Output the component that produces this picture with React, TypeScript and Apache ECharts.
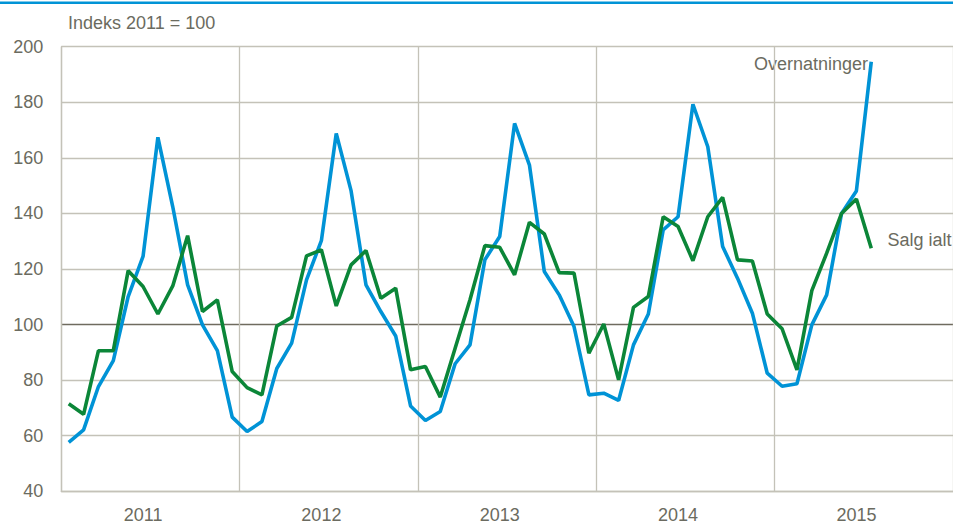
import React, { useEffect, useRef } from "react";
import * as echarts from "echarts";

const years = ["2011", "2012", "2013", "2014", "2015"];
const monthNums = ["01", "02", "03", "04", "05", "06", "07", "08", "09", "10", "11", "12"];

const overnatninger = [
  57.6, 62.1, 77.7, 87.0, 110.1, 124.5, 167.4, 142.4, 114.3, 99.9, 90.6, 66.7,
  61.5, 65.1, 84.2, 93.3, 116.1, 130.2, 168.8, 148.1, 114.3, 104.7, 95.9, 70.7,
  65.5, 68.7, 85.9, 92.7, 123.3, 131.7, 172.4, 157.4, 119.1, 110.7, 99.3, 74.7,
  75.3, 72.7, 92.7, 103.8, 134.1, 138.8, 179.3, 164.0, 128.1, 116.7, 104.1, 82.5,
  77.8, 78.7, 99.9, 110.7, 140.0, 148.1, 194.6,
];

const salgIalt = [
  71.5, 67.7, 90.6, 90.6, 119.4, 113.7, 103.8, 113.9, 132.0, 104.7, 108.9, 83.1,
  77.3, 74.7, 99.5, 102.6, 124.7, 126.9, 106.7, 121.5, 126.6, 109.5, 113.1, 83.7,
  84.9, 73.9, 91.5, 108.9, 128.4, 127.8, 117.9, 136.8, 132.6, 118.7, 118.5, 89.7,
  100.2, 80.1, 106.2, 110.1, 138.8, 135.3, 123.0, 138.8, 145.8, 123.3, 122.9, 103.8,
  98.5, 83.7, 112.2, 125.7, 140.0, 145.2, 127.5,
];

const titleText = "Indeks 2011 = 100";
const seriesNames = ["Overnatninger", "Salg ialt"];

function hasFont(name: string): boolean {
  try {
    const ctx = document.createElement("canvas").getContext("2d");
    if (!ctx) return false;
    ctx.font = "40px monospace";
    const w1 = ctx.measureText("Overnatninger 2011 = 100").width;
    ctx.font = `40px "${name}", monospace`;
    const w2 = ctx.measureText("Overnatninger 2011 = 100").width;
    return Math.abs(w1 - w2) > 0.5;
  } catch (e) {
    return false;
  }
}

export default function App() {
  const ref = useRef<HTMLDivElement>(null);

  useEffect(() => {
    if (!ref.current) return;
    const chart = echarts.init(ref.current, null, { renderer: "svg" });
    const narrow = hasFont("Liberation Sans Narrow");
    const FONT = narrow ? '"Liberation Sans Narrow", "Arial Narrow", sans-serif' : '"Liberation Sans", Arial, sans-serif';
    const FS = narrow ? 21 : 18;
    const TXT = "#6b6b60";
    const GRID = "#c4c2b8";
    const DARK = "#6f6b5f";
    const BLUE = "#0093d6";
    const GREEN = "#0b8638";

    const categories: string[] = [];
    years.forEach((y) => monthNums.forEach((m) => categories.push(`${y}-${m}`)));

    const splitColors = [GRID, GRID, GRID, DARK, GRID, GRID, GRID, GRID, GRID];

    chart.setOption({
      animation: false,
      backgroundColor: "#ffffff",
      textStyle: { fontFamily: FONT },
      grid: { left: 61.3, top: 46.7, bottom: 35.7, right: -4.8, containLabel: false },
      xAxis: {
        type: "category",
        data: categories,
        boundaryGap: true,
        axisLine: { show: true, lineStyle: { color: GRID, width: 1.3 } },
        axisTick: { show: false },
        axisLabel: {
          interval: (i: number) => i % 12 === 5,
          formatter: (v: string) => v.slice(0, 4),
          color: TXT,
          fontFamily: FONT,
          fontSize: FS,
          margin: 15,
        },
        splitLine: {
          show: true,
          interval: (i: number) => i % 12 === 0,
          lineStyle: { color: GRID, width: 1.3 },
        },
      },
      yAxis: {
        type: "value",
        min: 40,
        max: 200,
        interval: 20,
        axisLine: { show: true, lineStyle: { color: GRID, width: 1.3 } },
        axisTick: { show: false },
        axisLabel: { color: TXT, fontFamily: FONT, fontSize: FS, margin: 18 },
        splitLine: { show: true, lineStyle: { color: splitColors, width: 1.3 } },
      },
      series: [
        {
          name: seriesNames[0],
          type: "line",
          data: overnatninger,
          showSymbol: false,
          symbol: "none",
          lineStyle: { color: BLUE, width: 3.6 },
          itemStyle: { color: BLUE },
        },
        {
          name: seriesNames[1],
          type: "line",
          data: salgIalt,
          showSymbol: false,
          symbol: "none",
          lineStyle: { color: GREEN, width: 3.6 },
          itemStyle: { color: GREEN },
        },
      ],
      graphic: [
        { type: "rect", shape: { x: 0, y: 1.5, width: 953, height: 2.4 }, style: { fill: BLUE } },
        {
          type: "text",
          x: 68,
          y: 23,
          style: { text: titleText, fill: TXT, font: `${FS}px ${FONT}`, textAlign: "left", textVerticalAlign: "middle" },
        },
        {
          type: "text",
          x: 868,
          y: 64,
          style: { text: seriesNames[0], fill: TXT, font: `${FS}px ${FONT}`, textAlign: "right", textVerticalAlign: "middle" },
        },
        {
          type: "text",
          x: 887.5,
          y: 240,
          style: { text: seriesNames[1], fill: TXT, font: `${FS}px ${FONT}`, textAlign: "left", textVerticalAlign: "middle" },
        },
      ],
    });
    return () => chart.dispose();
  }, []);

  return <div ref={ref} style={{ position: "absolute", left: 0, top: 0, width: 953, height: 527 }} />;
}
